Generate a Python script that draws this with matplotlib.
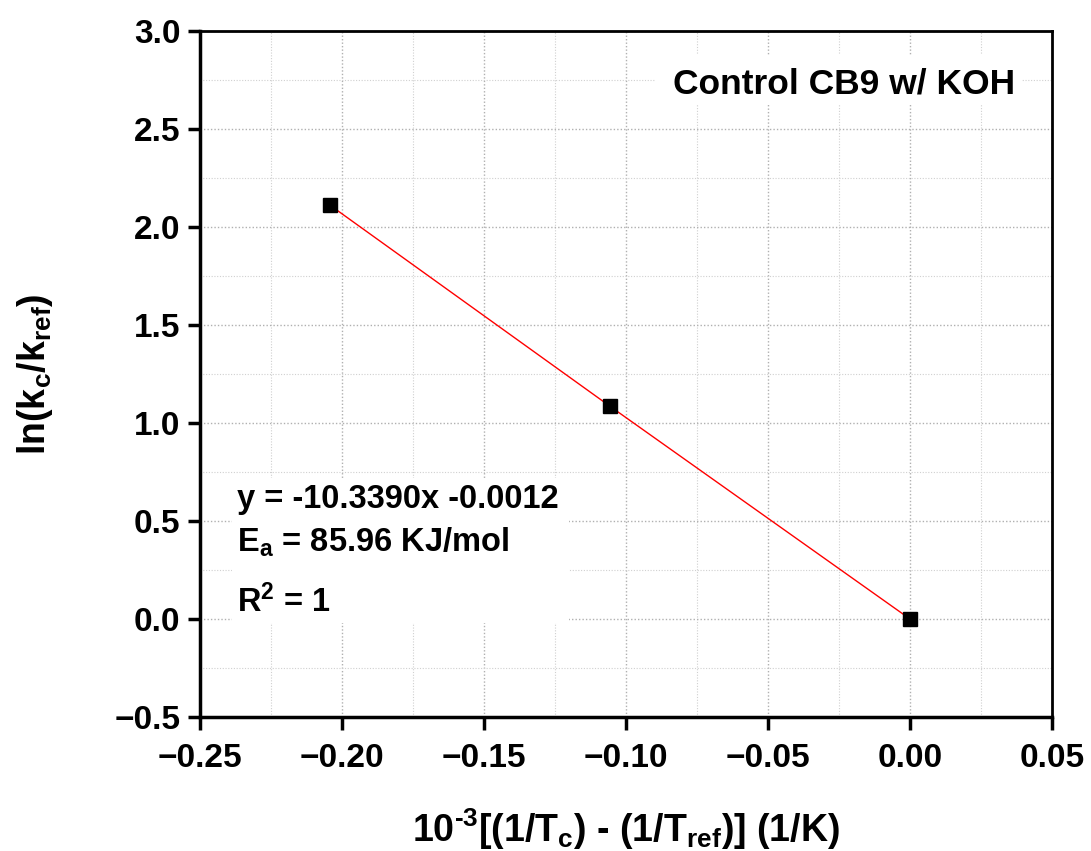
import matplotlib
matplotlib.use("Agg")
import matplotlib.pyplot as plt
import numpy as np
from matplotlib.ticker import MultipleLocator
from matplotlib.patches import Rectangle

x_vals = [-0.2042, -0.1056, 0.0]
y_vals = [2.111, 1.085, 0.0]
slope = -10.3390
intercept = -0.0012
title_text = 'Control CB9 w/ KOH'
ea_text = '85.96 KJ/mol'

plt.rcParams['font.family'] = ['Liberation Sans', 'DejaVu Sans']
plt.rcParams['font.weight'] = 'bold'
plt.rcParams['mathtext.fontset'] = 'custom'
plt.rcParams['mathtext.rm'] = 'Liberation Sans:bold'
plt.rcParams['mathtext.it'] = 'Liberation Sans:bold'
plt.rcParams['mathtext.bf'] = 'Liberation Sans:bold'

fig = plt.figure(figsize=(10.91, 8.51), dpi=100)
ax = fig.add_axes([200/1091, 1-717/851, 852/1091, 686/851])

ax.set_xlim(-0.25, 0.05)
ax.set_ylim(-0.5, 3.0)
ax.xaxis.set_major_locator(MultipleLocator(0.05))
ax.xaxis.set_minor_locator(MultipleLocator(0.025))
ax.yaxis.set_major_locator(MultipleLocator(0.5))
ax.yaxis.set_minor_locator(MultipleLocator(0.25))

ax.grid(which='major', color='#b0b0b0', linestyle=(0, (1, 1.5)), linewidth=1.0)
ax.grid(which='minor', color='#d0d0d0', linestyle=(0, (1, 1.5)), linewidth=0.8)
ax.set_axisbelow(True)

ax.plot(x_vals, y_vals, color='red', linewidth=1.0, zorder=3)
ax.plot(x_vals, y_vals, linestyle='none', marker='s', markersize=10.5,
        color='black', zorder=4)

for s in ['left', 'bottom']:
    ax.spines[s].set_linewidth(2.5)
for s in ['top', 'right']:
    ax.spines[s].set_linewidth(2.0)

ax.tick_params(which='major', direction='out', length=9, width=2.5,
               labelsize=24, pad=5, top=False, right=False)
ax.tick_params(axis='x', which='major', pad=10)
ax.tick_params(which='minor', length=0)
for lab in ax.get_xticklabels() + ax.get_yticklabels():
    lab.set_fontweight('bold')

ax.set_xlabel('10$^{\u2010 3}$[(1/T$_\\mathrm{c}$) - (1/T$_\\mathrm{ref}$)] (1/K)',
              fontsize=27, fontweight='bold')
ax.xaxis.set_label_coords(0.5, (717-806)/686)
ax.set_ylabel(r'ln(k$_\mathrm{c}$/k$_\mathrm{ref}$)', fontsize=27,
              fontweight='bold')
ax.yaxis.set_label_coords((55-200)/852, 0.5)

# white backgrounds behind the annotations
ax.add_patch(Rectangle((0.534, 0.892), 0.431, 0.073, transform=ax.transAxes,
                       facecolor='white', edgecolor='none', zorder=2))
ax.add_patch(Rectangle((0.0376, 0.137), 0.396, 0.211, transform=ax.transAxes,
                       facecolor='white', edgecolor='none', zorder=2))

ax.text(0.9566, (717-93)/686, title_text, transform=ax.transAxes,
        ha='right', va='baseline', fontsize=25.5, fontweight='bold', zorder=5)

tx = (237-200)/852
ax.text(tx, (717-508)/686, 'y = %.4fx %.4f' % (slope, intercept),
        transform=ax.transAxes, ha='left', va='baseline', fontsize=23.5,
        fontweight='bold', zorder=5)
ax.text(tx, (717-552)/686, r'E$_\mathrm{a}$ = ' + ea_text,
        transform=ax.transAxes, ha='left', va='baseline', fontsize=23.5,
        fontweight='bold', zorder=5)
ax.text(tx, (717-612)/686, r'R$^2$ = 1',
        transform=ax.transAxes, ha='left', va='baseline', fontsize=23.5,
        fontweight='bold', zorder=5)

fig.savefig('out.png', dpi=100)
